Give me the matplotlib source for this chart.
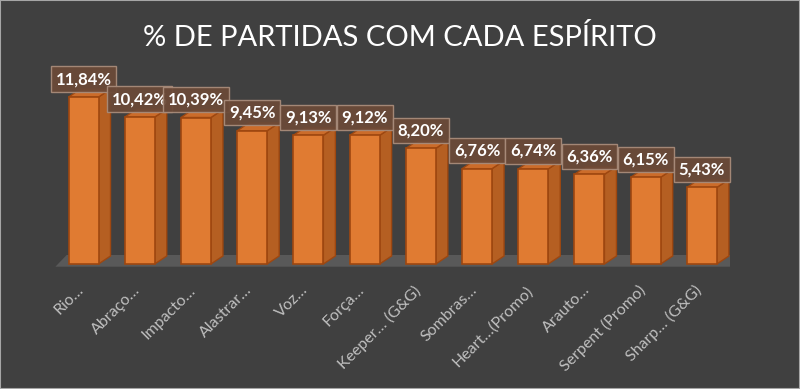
import matplotlib
matplotlib.use("Agg")
import matplotlib.pyplot as plt
from matplotlib.patches import Polygon, Rectangle

categories = ["Rio…", "Abraço…", "Impacto…", "Alastrar…", "Voz…", "Força…",
              "Keeper… (G&G)", "Sombras…", "Heart…(Promo)", "Arauto…",
              "Serpent (Promo)", "Sharp… (G&G)"]
values = [11.84, 10.42, 10.39, 9.45, 9.13, 9.12, 8.20, 6.76, 6.74, 6.36, 6.15, 5.43]
value_labels = ["11,84%", "10,42%", "10,39%", "9,45%", "9,13%", "9,12%",
                "8,20%", "6,76%", "6,74%", "6,36%", "6,15%", "5,43%"]
title = "% DE PARTIDAS COM CADA ESPÍRITO"

W, H = 800, 389
BG = "#404040"
fig = plt.figure(figsize=(W / 100, H / 100), dpi=100, facecolor=BG)
fig.patches.append(Rectangle((0, 0), 1, 1, transform=fig.transFigure,
                             fill=False, ec="#a6a6a6", lw=1.5))

# axes geometry in pixels
px_per = 14.1          # pixels per percentage point
zero_px = 264          # zero line (from top)
top_px, bot_px = 60, 280
left_px, right_px = 55.4, 730.0
ax = fig.add_axes([left_px / W, (H - bot_px) / H, (right_px - left_px) / W,
                   (bot_px - top_px) / H])
ax.set_facecolor("none")
n = len(values)
ax.set_xlim(-0.5, n - 0.5)
ax.set_ylim(-(bot_px - zero_px) / px_per, (zero_px - top_px) / px_per)
ax.axis("off")

spacing = (right_px - left_px) / n
w = 30 / spacing
dx = 12 / spacing
dy = 8 / px_per

# floor
f0 = -2.7 / px_per
f1 = 9 / px_per
ax.add_patch(Polygon([(-0.5, f0), (n - 0.5, f0), (n - 0.5 + 0.23, f1), (-0.5 + 0.2, f1)],
                     closed=True, fc="#595959", ec="none", zorder=1))

front_c = "#E07B32"
side_c = "#B55F22"
top_c = "#CC6C2A"
edge_c = "#9E4710"

for i, v in enumerate(values):
    x0, x1 = i - w / 2, i + w / 2
    ax.add_patch(Polygon([(x1, 0), (x1 + dx, dy), (x1 + dx, v + dy), (x1, v)],
                         closed=True, fc=side_c, ec=edge_c, lw=1, zorder=2))
    ax.add_patch(Polygon([(x0, v), (x1, v), (x1 + dx, v + dy), (x0 + dx, v + dy)],
                         closed=True, fc=top_c, ec=edge_c, lw=1, zorder=2))
    ax.add_patch(Rectangle((x0, 0), w, v, fc=front_c, ec=edge_c, lw=1.2, zorder=3))
    ax.text(i, v + 10 / px_per, value_labels[i], ha="center", va="bottom",
            color="white", fontsize=12, fontweight="bold", family="Lato",
            zorder=5,
            bbox=dict(boxstyle="square,pad=0.28", fc="#6B4A38", ec="#A88B7A",
                      lw=1, alpha=0.95))
    ax.text(i + 0.05, -(283 - zero_px) / px_per, categories[i], rotation=45,
            ha="right", va="top", color="#BFBFBF", fontsize=11.5, family="Lato",
            clip_on=False)

fig.text(0.5, 1 - 37 / H, title, ha="center", va="center", color="white",
         fontsize=21, family="Lato")

fig.savefig("out.png", dpi=100, facecolor=BG)
